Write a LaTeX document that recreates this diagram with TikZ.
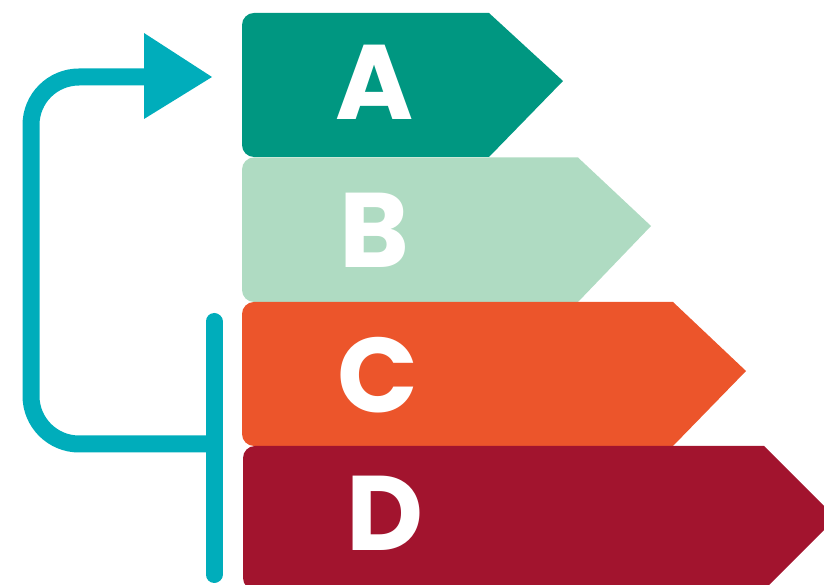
\documentclass[tikz,border=0pt]{standalone}
\usepackage{fontspec}
\setmainfont{Poppins}
\definecolor{colA}{RGB}{0,151,129}
\definecolor{colB}{RGB}{175,219,194}
\definecolor{colC}{RGB}{236,85,43}
\definecolor{colD}{RGB}{162,20,46}
\definecolor{teal}{RGB}{0,173,187}
\begin{document}
\begin{tikzpicture}[x=1pt,y=1pt,
  letter/.style={text=white,font=\fontsize{106}{106}\selectfont\bfseries,inner sep=0pt,anchor=center},
  conn/.style={draw=teal,line width=17pt}]
\useasboundingbox (0,0) rectangle (824,585);
% bars (y = 585 - pixel row)
\fill[colA] (563,504) -- (489,428) -- (254,428) arc[start angle=270,end angle=180,radius=12] -- (242,560) arc[start angle=180,end angle=90,radius=12] -- (489,572) -- cycle;
\fill[colB] (651,359) -- (578,283) -- (254,283) arc[start angle=270,end angle=180,radius=12] -- (242,415.5) arc[start angle=180,end angle=90,radius=12] -- (578,427.5) -- cycle;
\fill[colC] (746,214) -- (673,139) -- (254,139) arc[start angle=270,end angle=180,radius=12] -- (242,271) arc[start angle=180,end angle=90,radius=12] -- (673,283) -- cycle;
\fill[colD] (836,67) -- (764,-5) -- (255,-5) arc[start angle=270,end angle=180,radius=12] -- (243,127) arc[start angle=180,end angle=90,radius=12] -- (764,139) -- cycle;
% letters
\node[letter] (A) at (375,503) {A};
\node[letter] (B) at (374,355) {B};
\node[letter] (C) at (378,210) {C};
\node[letter] (D) at (385,72) {D};
% connector
\coordinate (vtop) at (214,263.5);
\coordinate (vbot) at (214,10.5);
\coordinate (join) at (214,141);
\coordinate (lb) at (31,141);
\coordinate (lt) at (31,508);
\coordinate (hb) at (146,508);
\draw[conn,line cap=round] (vtop) -- (vbot);
\draw[conn,rounded corners=48pt] (join) -- (lb) -- (lt) -- (hb);
\fill[teal] (144,552) -- (212,508) -- (144,466) -- cycle;
\end{tikzpicture}
\end{document}
